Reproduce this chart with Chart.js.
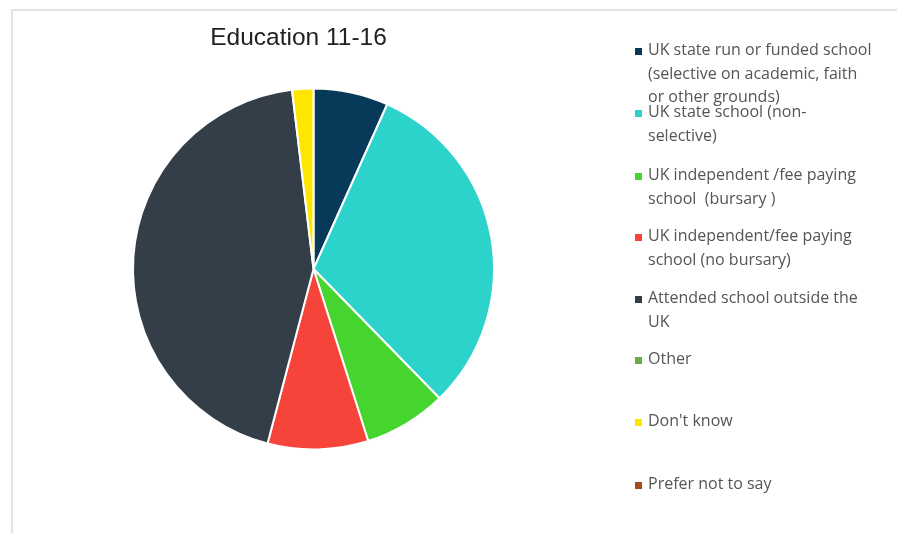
<!DOCTYPE html>
<html>
<head>
<meta charset="utf-8">
<script src="https://cdn.jsdelivr.net/npm/chart.js@4.4.1/dist/chart.umd.min.js"></script>
<style>
  html, body { margin: 0; padding: 0; background: #ffffff; }
  body { width: 897px; height: 533px; position: relative; overflow: hidden; }
  #frame {
    position: absolute; left: 11px; top: 9px; width: 900px; height: 540px;
    border-left: 2px solid #e3e3e3; border-top: 2px solid #e3e3e3;
  }
  #wrap { position: absolute; left: 0; top: 0; width: 897px; height: 533px; }
  #title {
    position: absolute; left: 0; width: 597px; top: 22px; text-align: center;
    font-family: "Liberation Sans", Arial, sans-serif; font-size: 24.5px; color: #222222;
    line-height: 30px;
  }
  #legend { position: absolute; left: 0; top: 0; }
  .item { position: absolute; left: 635px; }
  .mark { position: absolute; left: 0; width: 7px; height: 7px; }
  .txt {
    position: absolute; left: 13px; white-space: nowrap;
    font-family: "Open Sans", sans-serif; font-size: 16px; line-height: 23.5px; color: #555555;
  }
</style>
</head>
<body>
<div id="frame"></div>
<div id="wrap"><canvas id="c" width="897" height="533"></canvas></div>
<div id="title"></div>
<div id="legend"></div>
<script>
// Education type for ages 11-16 (share of respondents, %)
const categories = [
  ["UK state run or funded school", "(selective on academic, faith", "or other grounds)"],
  ["UK state school (non-", "selective)"],
  ["UK independent /fee paying", "school  (bursary )"],
  ["UK independent/fee paying", "school (no bursary)"],
  ["Attended school outside the", "UK"],
  ["Other"],
  ["Don't know"],
  ["Prefer not to say"]
];
const shares = [6.7, 31.0, 7.4, 9.0, 44.0, 0, 1.9, 0];
const colors = ["#073a58", "#2cd3cb", "#46d52f", "#f7443a", "#333e49", "#6aab48", "#ffe600", "#a04f1c"];
const chartTitle = "Education 11-16";

const chart = new Chart(document.getElementById("c"), {
  type: "pie",
  data: {
    labels: categories,
    datasets: [{
      data: shares,
      backgroundColor: colors,
      borderColor: "#ffffff",
      borderWidth: 2,
      hoverOffset: 0
    }]
  },
  options: {
    responsive: false,
    animation: false,
    layout: { padding: { left: 132, right: 402, top: 87, bottom: 82 } },
    plugins: {
      legend: { display: false },
      title: { display: false },
      tooltip: { enabled: false }
    }
  }
});

document.getElementById("title").textContent = chartTitle;

// Legend on the right, one entry per category
const legend = document.getElementById("legend");
const itemTops = [38, 100, 163, 224, 286, 347, 409, 472];
categories.forEach((lines, i) => {
  const item = document.createElement("div");
  item.className = "item";
  item.style.top = itemTops[i] + "px";
  const mark = document.createElement("div");
  mark.className = "mark";
  mark.style.background = colors[i];
  mark.style.top = "10px";
  const txt = document.createElement("div");
  txt.className = "txt";
  txt.style.top = "0px";
  txt.innerHTML = lines.map(s => s.replace(/&/g, "&amp;").replace(/</g, "&lt;").replace(/  /g, " &nbsp;")).join("<br>");
  item.appendChild(mark);
  item.appendChild(txt);
  legend.appendChild(item);
});
</script>
</body>
</html>
